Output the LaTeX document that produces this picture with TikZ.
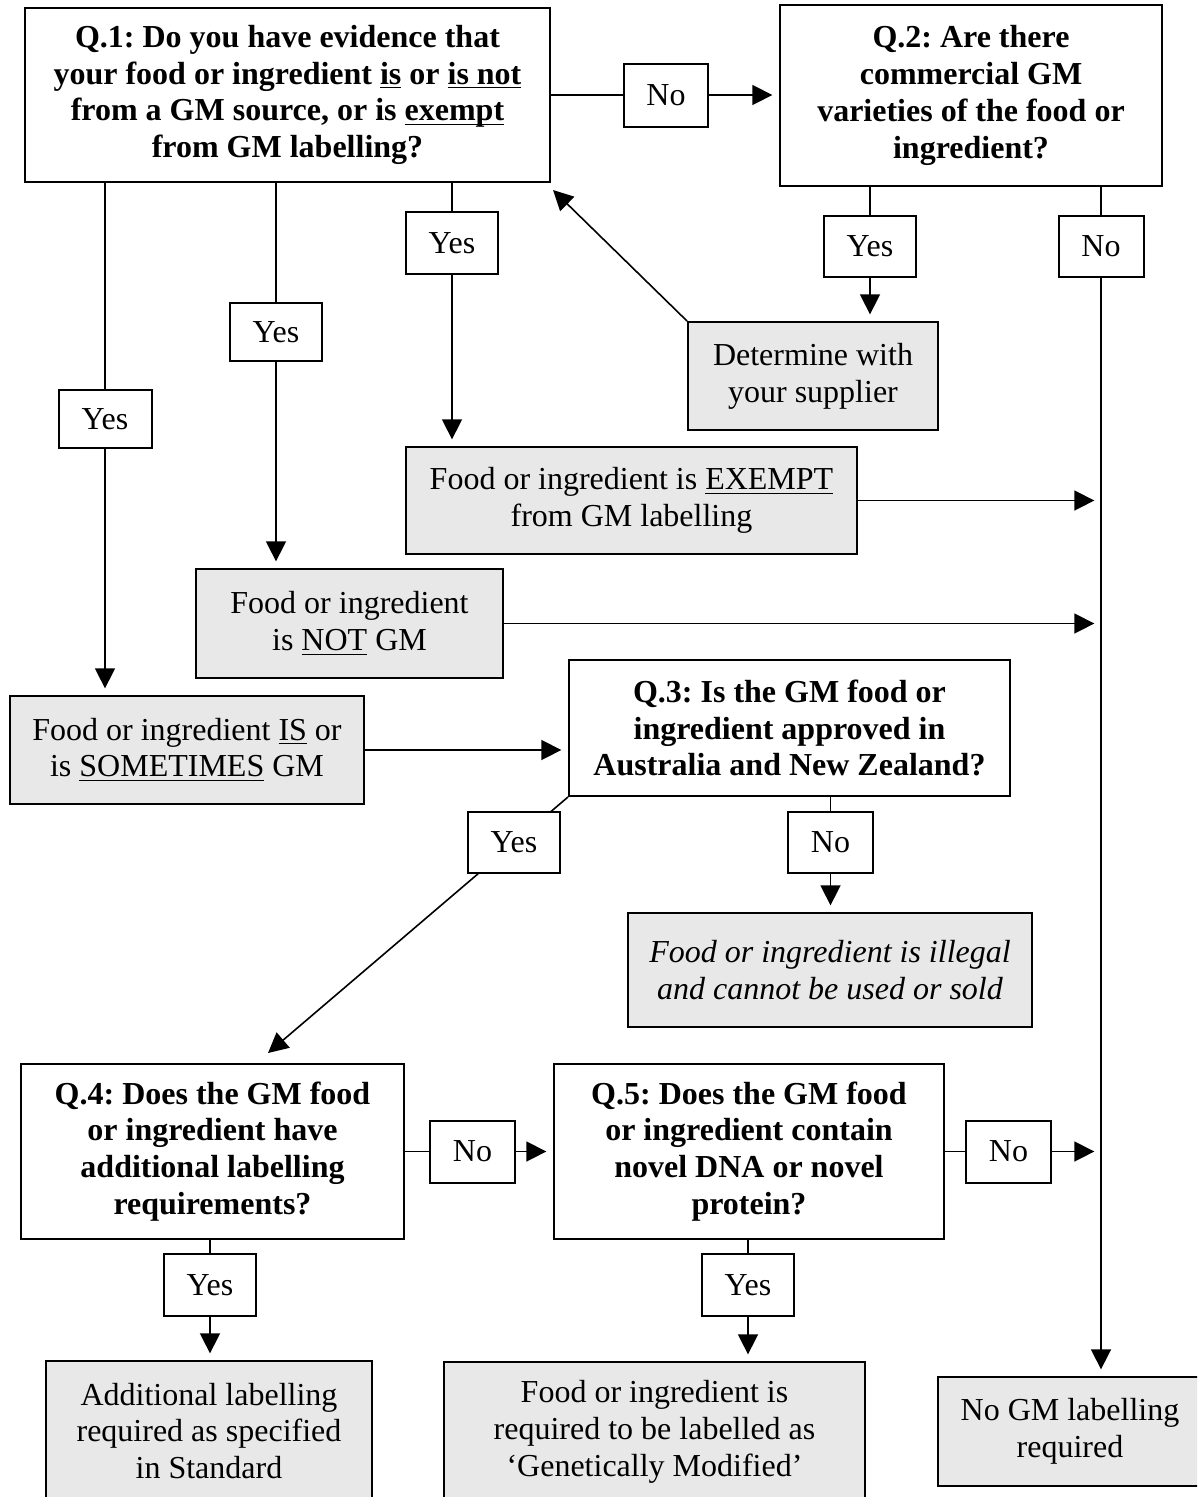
\documentclass[tikz,border=0pt]{standalone}
\usepackage{fontspec}
\setmainfont{Liberation Serif}
\usepackage{tikz}
\usetikzlibrary{arrows.meta,backgrounds}
\definecolor{boxgray}{RGB}{232,232,232}
\newcommand{\pxu}{0.375pt}
\newcommand{\undl}[1]{\underline{\smash{#1}}}
\frenchspacing
\tikzset{
  sz/.style 2 args={minimum width=#1*\pxu, minimum height=#2*\pxu},
  qbox/.style={draw, line width=0.75pt, fill=white, align=center, inner sep=0pt, font=\fontsize{12}{13.8}\selectfont\bfseries},
  endbox/.style={draw, line width=0.75pt, fill=boxgray, align=center, inner sep=0pt, font=\fontsize{12}{13.8}\selectfont},
  ansbox/.style={draw, line width=0.75pt, fill=white, inner sep=0pt, font=\fontsize{12}{13.8}\selectfont},
  flow/.style={line width=0.6pt, -{Triangle[length=7.5pt,width=7.5pt]}, shorten >=2.5pt}
}
\begin{document}
\begin{tikzpicture}[x=\pxu,y=-\pxu]
    \useasboundingbox (0,0) rectangle (1197,1497);
    \clip (0,0) rectangle (1197,1497);
    \node[qbox, sz={525}{174}] (q1) at (287.5,95) {Q.1: Do you have evidence that\\ your food or ingredient \undl{is} or \undl{is not}\\ from a GM source, or is \undl{exempt}\\ from GM labelling?};
    \node[ansbox, sz={84}{63}] (no1) at (666,95) {No};
    \node[qbox, sz={382}{181}] (q2) at (971,95.5) {Q.2: Are there\\ commercial GM\\ varieties of the food or\\ ingredient?};
    \node[ansbox, sz={92}{61}] (yes2) at (870,246.5) {Yes};
    \node[ansbox, sz={85}{61}] (no2) at (1101,246.5) {No};
    \node[endbox, sz={250}{108}] (det) at (813,376) {Determine with\\ your supplier};
    \node[ansbox, sz={93}{58}] (yes1a) at (105,419) {Yes};
    \node[ansbox, sz={92}{58}] (yes1b) at (276,332) {Yes};
    \node[ansbox, sz={92}{62}] (yes1c) at (452,243) {Yes};
    \node[endbox, sz={451}{107}] (exempt) at (631.5,500.5) {Food or ingredient is \undl{EXEMPT}\\ from GM labelling};
    \node[endbox, sz={307}{109}] (notgm) at (349.5,623.5) {Food or ingredient\\ is \undl{NOT} GM};
    \node[endbox, sz={354}{108}] (isgm) at (187,750) {Food or ingredient \undl{IS} or\\ is \undl{SOMETIMES} GM};
    \node[qbox, sz={441}{136}] (q3) at (789.5,728) {Q.3: Is the GM food or\\ ingredient approved in\\ Australia and New Zealand?};
    \node[ansbox, sz={92}{61}] (yes3) at (514,842.5) {Yes};
    \node[ansbox, sz={85}{61}] (no3) at (830.5,842.5) {No};
    \node[endbox, sz={404}{114}, font=\fontsize{12}{13.8}\selectfont\itshape] (illegal) at (830,970) {Food or ingredient is illegal\\ and cannot be used or sold};
    \node[qbox, sz={383}{175}] (q4) at (212.5,1151.5) {Q.4: Does the GM food\\ or ingredient have\\ additional labelling\\ requirements?};
    \node[ansbox, sz={85}{62}] (no4) at (472.5,1151.5) {No};
    \node[qbox, sz={390}{175}] (q5) at (749,1151.5) {Q.5: Does the GM food\\ or ingredient contain\\ novel DNA or novel\\ protein?};
    \node[ansbox, sz={85}{62}] (no5) at (1008.5,1151.5) {No};
    \node[ansbox, sz={92}{62}] (yes4) at (210,1285) {Yes};
    \node[ansbox, sz={92}{62}] (yes5) at (748,1285) {Yes};
    \node[endbox, sz={326}{140}] (addl) at (209,1431) {Additional labelling\\ required as specified\\ in Standard};
    \node[endbox, sz={421}{140}] (gmlab) at (654.5,1432) {Food or ingredient is\\ required to be labelled as\\ ‘Genetically Modified’};
    \node[endbox, sz={264}{109}] (nogm) at (1070,1431.5) {No GM labelling\\ required};
    \coordinate (q1tip) at (553,190);
    \coordinate (q4tip) at (268,1053);
    \begin{scope}[on background layer]
        \draw[flow] (q1.east) -- (q1.east -| q2.west);
        \draw[flow] (yes2 |- q2.south) -- (yes2 |- det.north);
        \draw[flow] (no2 |- q2.south) -- (no2 |- nogm.north);
        \draw[flow, shorten >=0pt] (det.north west) -- (q1tip);
        \draw[flow] (yes1a |- q1.south) -- (yes1a |- isgm.north);
        \draw[flow] (yes1b |- q1.south) -- (yes1b |- notgm.north);
        \draw[flow] (yes1c |- q1.south) -- (yes1c |- exempt.north);
        \draw[flow] (exempt.east) -- (exempt.east -| no2);
        \draw[flow] (notgm.east) -- (notgm.east -| no2);
        \draw[flow] (isgm.east) -- (isgm.east -| q3.west);
        \draw[flow, shorten >=0pt] (q3.south west) -- (q4tip);
        \draw[flow] (no3 |- q3.south) -- (no3 |- illegal.north);
        \draw[flow] (q4.east) -- (q5.west);
        \draw[flow] (q5.east) -- (q5.east -| no2);
        \draw[flow] (yes4 |- q4.south) -- (yes4 |- addl.north);
        \draw[flow] (yes5 |- q5.south) -- (yes5 |- gmlab.north);
    \end{scope}
\end{tikzpicture}
\end{document}
